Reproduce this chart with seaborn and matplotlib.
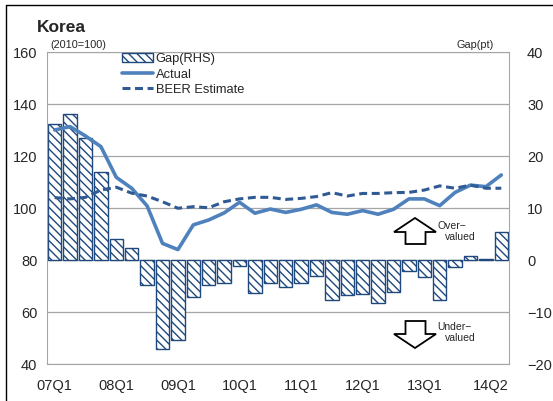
import numpy as np
import pandas as pd
import matplotlib
matplotlib.use("Agg")
import matplotlib.pyplot as plt
from matplotlib.patches import Polygon
from matplotlib.lines import Line2D
from matplotlib.transforms import ScaledTranslation
import seaborn as sns

# quarterly data, 07Q1 .. 14Q2
quarters = ["07Q1", "07Q2", "07Q3", "07Q4", "08Q1", "08Q2", "08Q3", "08Q4",
            "09Q1", "09Q2", "09Q3", "09Q4", "10Q1", "10Q2", "10Q3", "10Q4",
            "11Q1", "11Q2", "11Q3", "11Q4", "12Q1", "12Q2", "12Q3", "12Q4",
            "13Q1", "13Q2", "13Q3", "13Q4", "14Q1", "14Q2"]
actual = [130.0, 131.3, 127.7, 123.6, 111.8, 107.6, 100.8, 86.4, 84.0, 93.5,
          95.4, 98.1, 102.2, 98.0, 99.6, 98.3, 99.5, 101.2, 98.3, 97.6,
          99.0, 97.6, 99.5, 103.5, 103.5, 100.9, 106.0, 108.8, 108.2, 112.7]
beer = [104.0, 103.5, 104.1, 106.9, 108.0, 105.7, 104.6, 102.4, 99.9, 100.5,
        100.1, 102.4, 103.5, 104.1, 104.1, 103.3, 103.7, 104.4, 105.9, 104.6,
        105.6, 105.6, 105.9, 106.0, 106.9, 108.5, 107.6, 108.8, 107.6, 107.6]
gap = [26.2, 28.1, 23.5, 17.0, 4.1, 2.3, -4.9, -17.2, -15.4, -7.1,
       -4.8, -4.4, -1.2, -6.4, -4.4, -5.1, -4.5, -3.1, -7.6, -6.7,
       -6.5, -8.3, -6.2, -2.1, -3.2, -7.7, -1.4, 0.8, 0.15, 5.3]
tick_labels = ["07Q1", "08Q1", "09Q1", "10Q1", "11Q1", "12Q1", "13Q1", "14Q2"]

df = pd.DataFrame({"pos": np.arange(len(quarters)), "quarter": quarters,
                   "actual": actual, "beer": beer, "gap": gap})

sns.set_style("white")
plt.rcParams["font.family"] = ["Liberation Sans", "DejaVu Sans"]
plt.rcParams["hatch.linewidth"] = 1.0
plt.rcParams["hatch.color"] = "#1F497D"

fig = plt.figure(figsize=(5.53, 4.01), dpi=100)
ax = fig.add_axes([47 / 553, 1 - 364 / 401, 462 / 553, 312 / 401])
ax2 = ax.twinx()

# bars (gap, right-hand scale) on the lower axes so lines sit on top
sns.barplot(data=df, x="pos", y="gap", ax=ax, native_scale=True, width=0.86,
            color="white", edgecolor="#1F497D", linewidth=1.0,
            hatch="\\\\\\\\", label="Gap(RHS)", legend=False, zorder=2)
sns.lineplot(data=df, x="pos", y="actual", ax=ax2, color="#4F81BD",
             linewidth=2.6, label="Actual", legend=False)
sns.lineplot(data=df, x="pos", y="beer", ax=ax2, color="#2F5A94",
             linewidth=2.2, linestyle=(0, (2.6, 1.5)), label="BEER Estimate",
             legend=False)
if ax.get_legend() is not None:
    ax.get_legend().remove()

ax.set_ylim(-20, 40)
ax2.set_ylim(40, 160)
ax.set_xlim(-0.5, len(quarters) - 0.5)
ax.set_yticks(np.arange(-20, 41, 10))
ax2.set_yticks(np.arange(40, 161, 20))

# bars axis shows its scale on the right, lines axis on the left
ax.yaxis.tick_right()
ax2.yaxis.tick_left()
ax.set_ylabel("")
ax2.set_ylabel("")
ax.set_xlabel("")
ax2.set_xlabel("")

ax.grid(axis="y", color="#A6A6A6", linewidth=0.9)
ax.set_axisbelow(True)
for s in ax.spines.values():
    s.set_color("#A6A6A6")
for s in ax2.spines.values():
    s.set_visible(False)

tick_pos = [quarters.index(q) for q in tick_labels]
ax.set_xticks(tick_pos)
ax.set_xticklabels(tick_labels)
ax.set_xticks(np.arange(0.5, len(quarters) - 0.5, 1), minor=True)
ax.tick_params(axis="x", which="major", length=0, pad=11, labelsize=10.5)
ax.tick_params(axis="x", which="minor", direction="in", length=5,
               color="#A6A6A6", width=0.9)
ax.tick_params(axis="y", length=0, pad=13, labelsize=10.5)
ax2.tick_params(axis="y", length=0, pad=7, labelsize=10.5)
last = ax.get_xticklabels()[-1]
last.set_transform(last.get_transform() + ScaledTranslation(-0.11, 0, fig.dpi_scale_trans))

h1, l1 = ax.get_legend_handles_labels()
h2, l2 = ax2.get_legend_handles_labels()
leg = ax2.legend(h1 + h2, l1 + l2, loc="upper left", bbox_to_anchor=(0.16, 1.0),
                 frameon=False, fontsize=9.3, handlelength=2.4, handleheight=0.7,
                 handletextpad=0.2, labelspacing=0.25, borderpad=0.1,
                 borderaxespad=0)

# titles and unit notes
fig.text(37 / 553, 1 - 32 / 401, "Korea", fontsize=12.5, fontweight="bold")
fig.text(50 / 553, 1 - 45 / 401, "(2010=100)", fontsize=7.8, va="center")
fig.text(494 / 553, 1 - 45 / 401, "Gap(pt)", fontsize=7.8, va="center", ha="right")

# over / under valued arrows
def px(x, y):
    return ((x - 47) / 462, (364 - y) / 312)

up = [px(415, 218), px(436, 232), px(425.5, 232), px(425.5, 244),
      px(405.5, 244), px(405.5, 232), px(394, 232)]
down = [px(405.5, 321), px(425.5, 321), px(425.5, 334), px(436, 334),
        px(415, 348), px(394, 334), px(405.5, 334)]
for pts in (up, down):
    ax2.add_patch(Polygon(pts, closed=True, transform=ax2.transAxes,
                          facecolor="white", edgecolor="black", linewidth=1.3,
                          zorder=5))
ax2.text(*px(438, 226), "Over−", transform=ax2.transAxes, fontsize=7.5, va="center")
ax2.text(*px(445, 237.5), "valued", transform=ax2.transAxes, fontsize=7.5, va="center")
ax2.text(*px(437, 327), "Under−", transform=ax2.transAxes, fontsize=7.5, va="center")
ax2.text(*px(445, 338), "valued", transform=ax2.transAxes, fontsize=7.5, va="center")

# outer frame (top and left edges visible)
fig.add_artist(Line2D([6 / 553, 1.0], [1 - 5 / 401, 1 - 5 / 401], color="black", linewidth=1))
fig.add_artist(Line2D([6 / 553, 6 / 553], [0, 1 - 5 / 401], color="black", linewidth=1))

fig.savefig("out.png", dpi=100)
